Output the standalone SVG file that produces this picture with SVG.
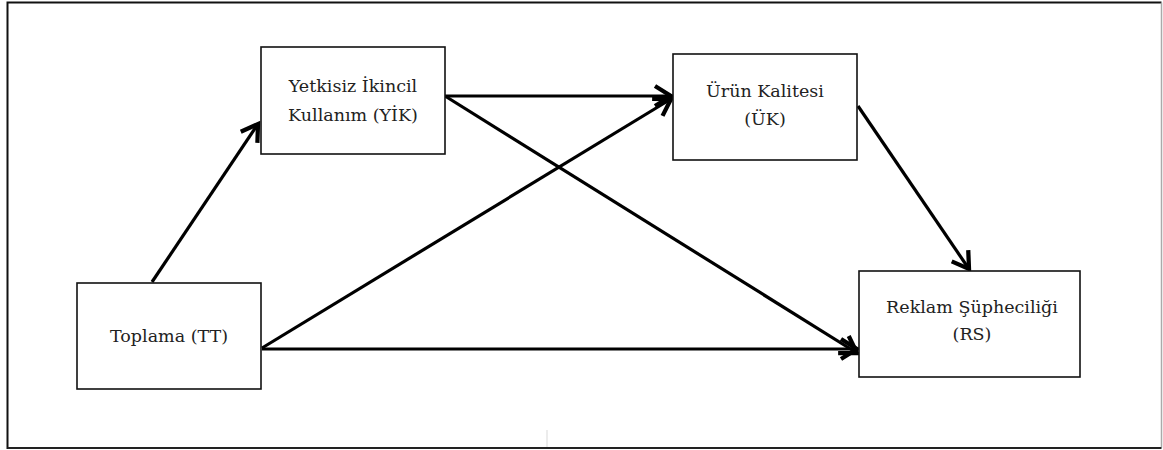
<svg xmlns="http://www.w3.org/2000/svg" width="1163" height="450" viewBox="0 0 1163 450">
<style>
.box{fill:#fff;stroke:#111;stroke-width:1.6}
.lbl{font-family:"DejaVu Serif","Liberation Serif",serif;font-size:17.5px;fill:#222;text-anchor:middle}
.edge{stroke:#000;stroke-width:3.2;fill:none;marker-end:url(#ah)}
</style>
<defs>
<marker id="ah" markerUnits="userSpaceOnUse" markerWidth="24" markerHeight="24" viewBox="-14 -9 16 18" refX="0" refY="0" orient="auto">
<path d="M-12,-7.5 L0,0 L-12,7.5" fill="none" stroke="#000" stroke-width="3.2" stroke-linejoin="miter"/>
</marker>
</defs>
<rect x="0" y="0" width="1163" height="450" fill="#fff"/>
<g id="frame">
<path d="M7.5,449 V2.5 H1161.5" fill="none" stroke="#111" stroke-width="2"/>
<path d="M1161.5,2.5 V447.5" fill="none" stroke="#aaa" stroke-width="1.5"/>
<path d="M7.5,448 H1161.5" fill="none" stroke="#222" stroke-width="2"/>
<path d="M547,430 V447" stroke="#e6e6e6" stroke-width="1.5"/>
</g>
<g id="connectors">
<line class="edge" x1="152" y1="282" x2="258" y2="124"/>
<line class="edge" x1="445" y1="96" x2="671" y2="96"/>
<line class="edge" x1="445" y1="96" x2="857" y2="353"/>
<line class="edge" x1="262" y1="348" x2="671" y2="99"/>
<line class="edge" x1="262" y1="349" x2="857" y2="349"/>
<line class="edge" x1="858" y1="106" x2="969" y2="269"/>
</g>
<g id="node-yik">
<rect class="box" x="261" y="47" width="184" height="107"/>
<text class="lbl" x="353" y="92">Yetkisiz İkincil</text>
<text class="lbl" x="353" y="121">Kullanım (YİK)</text>
</g>
<g id="node-uk">
<rect class="box" x="673" y="54" width="184" height="106"/>
<text class="lbl" x="765" y="97">Ürün Kalitesi</text>
<text class="lbl" x="765" y="125">(ÜK)</text>
</g>
<g id="node-tt">
<rect class="box" x="77" y="283" width="184" height="106"/>
<text class="lbl" x="169" y="342">Toplama (TT)</text>
</g>
<g id="node-rs">
<rect class="box" x="859" y="271" width="221" height="106"/>
<text class="lbl" x="972" y="313">Reklam Şüpheciliği</text>
<text class="lbl" x="972" y="340">(RS)</text>
</g>
</svg>
